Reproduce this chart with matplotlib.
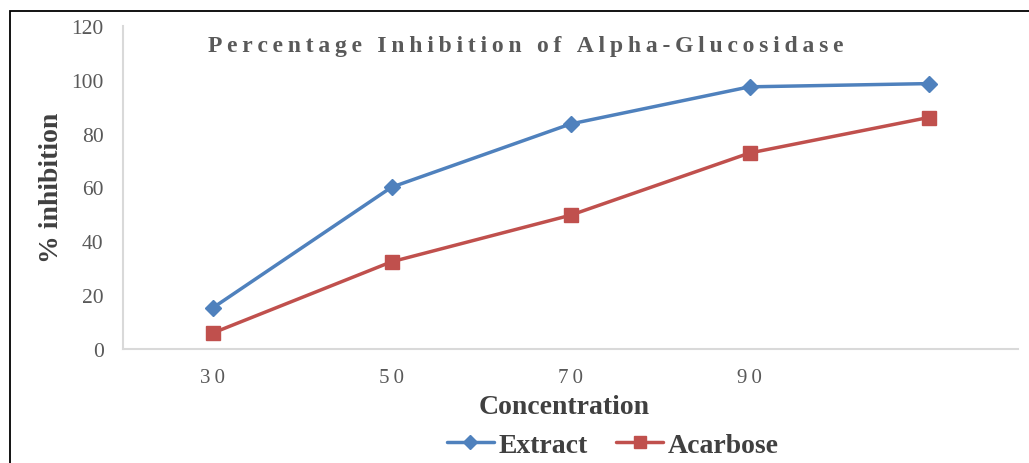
import numpy as np
import matplotlib.pyplot as plt
from matplotlib.patches import Rectangle

plt.rcParams['font.family'] = ['Liberation Serif', 'DejaVu Serif']

# Concentration groups (the last group carries no printed label)
tick_labels = ['3\u20090', '5\u20090', '7\u20090', '9\u20090', '']
extract = [15.2, 60.1, 83.6, 97.4, 98.6]
acarbose = [5.9, 32.4, 49.7, 72.8, 86.0]
title = 'Percentage Inhibition of Alpha-Glucosidase'

blue = '#4F81BD'
red = '#C0504D'
text_gray = '#595959'

fig = plt.figure(figsize=(10.29, 4.64), dpi=100)
ax = fig.add_axes([123 / 1029, 1 - 350 / 464, (1018 - 123) / 1029, (350 - 27) / 464])

x = np.arange(len(tick_labels))
ax.plot(x, extract, color=blue, lw=2.5, marker='D', ms=8.5, label='Extract',
        solid_capstyle='round', zorder=3)
ax.plot(x, acarbose, color=red, lw=2.5, marker='s', ms=10.5, label='Acarbose',
        solid_capstyle='round', zorder=3)

ax.set_xlim(-0.5, len(tick_labels) - 0.5)
ax.set_ylim(0, 120)
ax.set_yticks(np.arange(0, 121, 20))
ax.set_xticks(x)
ax.set_xticklabels(tick_labels)
ax.tick_params(axis='both', length=0, labelsize=15, labelcolor=text_gray)
ax.tick_params(axis='y', labelsize=15.5, pad=14)
ax.tick_params(axis='x', pad=14)

for side in ['top', 'right']:
    ax.spines[side].set_visible(False)
for side in ['left', 'bottom']:
    ax.spines[side].set_color('#d9d9d9')
    ax.spines[side].set_linewidth(1.5)

# letter-spaced chart title
spaced_title = '\u2009'.join(title)
fig.text(526 / 1029, 1 - 47 / 464, spaced_title, fontsize=17, fontweight='bold',
         color=text_gray, ha='center', va='center')

fig.text(52 / 1029, 1 - 188 / 464, '% inhibition', rotation=90, fontsize=20,
         fontweight='bold', color='#404040', ha='center', va='center')
fig.text(564 / 1029, 1 - 408 / 464, 'Concentration', fontsize=20,
         fontweight='bold', color='#404040', ha='center', va='center')

leg = fig.legend(loc='center', bbox_to_anchor=(613 / 1029, 1 - 446 / 464), ncol=2,
                 frameon=False, fontsize=20, handlelength=1.7, handletextpad=0.18,
                 columnspacing=1.0, borderaxespad=0, borderpad=0)
for t in leg.get_texts():
    t.set_fontweight('bold')
    t.set_color('#404040')
for h in leg.legend_handles:
    h.set_markersize(h.get_markersize() * 0.8)

# outer frame running off the right and bottom edges
fig.patches.append(Rectangle((10 / 1029, -0.1), 1.2, 1 - 12 / 464 + 0.1,
                             transform=fig.transFigure, fill=False,
                             edgecolor='black', lw=1.3))

fig.savefig('out.png', dpi=100)
